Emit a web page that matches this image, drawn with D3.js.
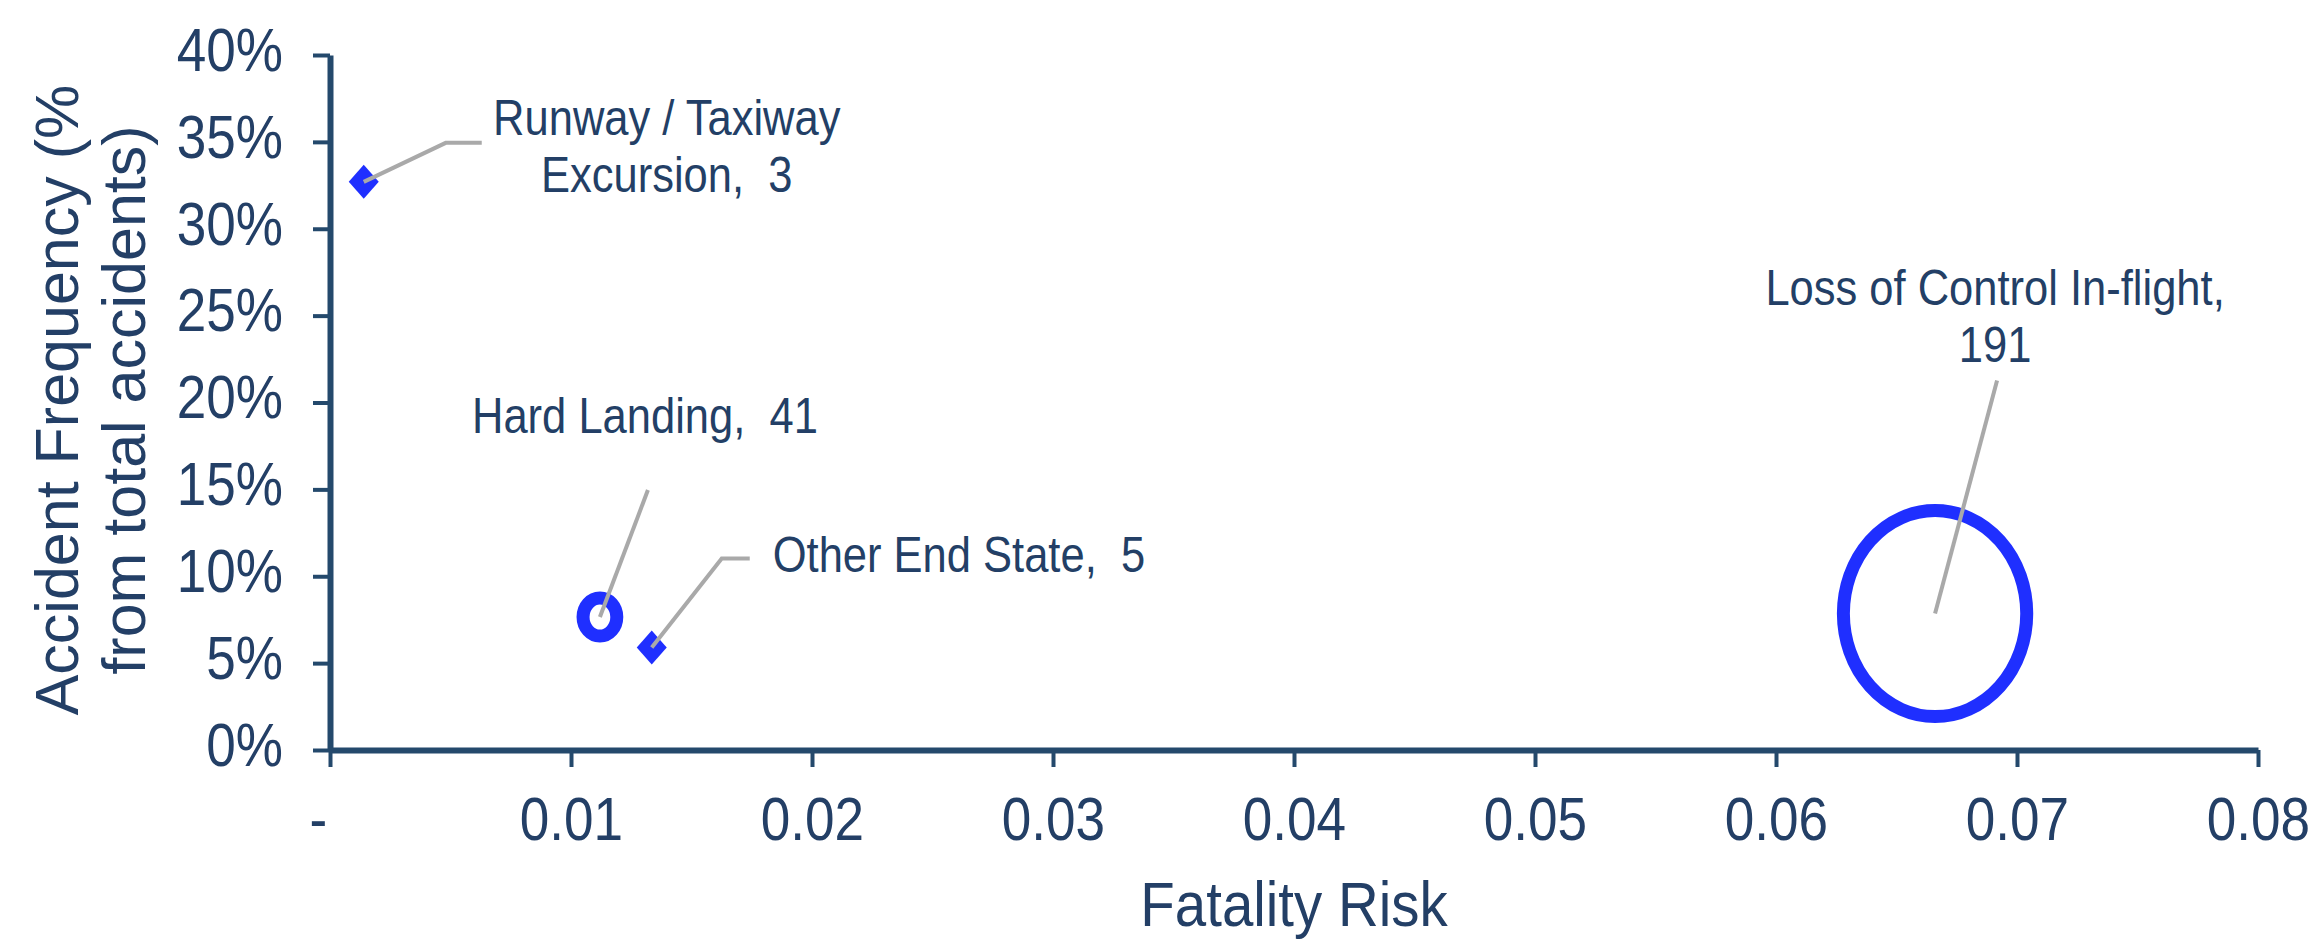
<!DOCTYPE html>
<html>
<head>
<meta charset="utf-8">
<script src="https://cdn.jsdelivr.net/npm/d3@7/dist/d3.min.js"></script>
<style>
  html, body { margin: 0; padding: 0; background: #ffffff; }
  svg { display: block; }
  text { font-family: "Liberation Sans", Arial, sans-serif; white-space: pre; }
</style>
</head>
<body>
<svg id="chart" width="2320" height="941"></svg>
<script>
// ---------------- data ----------------
const categories = ["Runway / Taxiway Excursion", "Hard Landing", "Other End State", "Loss of Control In-flight"];
const fatalityRisk = [0.0014, 0.0112, 0.01335, 0.0666];
const accidentFrequency = [0.327, 0.0765, 0.059, 0.0785];
const bubbleValues = [3, 41, 5, 191];
const labelLines = [
  ["Runway / Taxiway", "Excursion,  3"],
  ["Hard Landing,  41"],
  ["Other End State,  5"],
  ["Loss of Control In-flight,", "191"]
];
const xTickValues = [0, 0.01, 0.02, 0.03, 0.04, 0.05, 0.06, 0.07, 0.08];
const xTickLabels = ["-", "0.01", "0.02", "0.03", "0.04", "0.05", "0.06", "0.07", "0.08"];
const yTickValues = [0, 0.05, 0.10, 0.15, 0.20, 0.25, 0.30, 0.35, 0.40];
const yTickLabels = ["0%", "5%", "10%", "15%", "20%", "25%", "30%", "35%", "40%"];
const xTitle = "Fatality Risk";
const yTitleLines = ["Accident Frequency (%", "from total accidents)"];

// ---------------- layout ----------------
const W = 2320, H = 941;
const plot = { left: 330, right: 2258, top: 55, bottom: 750 };
const SX = 0.87;          // horizontal squeeze of the original picture (text)
const ELL = 0.89;         // horizontal squeeze of the bubbles
const MIN_R = 9;          // bubbles smaller than this are drawn as small solid diamonds
const textColor = "#233f66";
const axisColor = "#24496c";
const bubbleColor = "#1f2fff";
const leaderColor = "#a9a9a9";

// label layout: leader path (offsets from point) and label anchor
const labelLayout = [
  { path: [[0,0],[82,-39],[118,-39]], anchor: "middle", dx: 303, dy: -47, lh: 57 },
  { path: [[0,0],[48,-127]],          anchor: "middle", dx: 45,  dy: -184, lh: 57 },
  { path: [[0,0],[70,-89],[98,-89]],  anchor: "start",  dx: 121, dy: -75, lh: 57 },
  { path: [[0,0],[62,-233]],          anchor: "middle", dx: 60,  dy: -309, lh: 57 }
];

const svg = d3.select("#chart");
svg.append("rect").attr("width", W).attr("height", H).attr("fill", "#fff");

const x = d3.scaleLinear().domain([0, 0.08]).range([plot.left, plot.right]);
const y = d3.scaleLinear().domain([0, 0.40]).range([plot.bottom, plot.top]);
const r = d3.scalePow().exponent(1.1).domain([0, 191]).range([0, 103]);

// ---------------- axes ----------------
const xAxis = d3.axisBottom(x)
  .tickValues(xTickValues)
  .tickSize(17)
  .tickSizeOuter(0)
  .tickFormat((d, i) => xTickLabels[i]);

const gx = svg.append("g")
  .attr("transform", `translate(0,${plot.bottom})`)
  .call(xAxis);
gx.attr("font-family", null);
gx.select(".domain").attr("stroke", axisColor).attr("stroke-width", 6);
gx.selectAll(".tick line").attr("stroke", axisColor).attr("stroke-width", 4);
gx.selectAll(".tick text")
  .attr("fill", textColor)
  .attr("font-size", 61)
  .attr("y", 90)
  .attr("dy", 0)
  .attr("x", (d, i) => i === 0 ? -14 : 0)
  .attr("transform", `scale(${SX},1)`);

const yAxis = d3.axisLeft(y)
  .tickValues(yTickValues)
  .tickSize(17)
  .tickSizeOuter(0)
  .tickFormat((d, i) => yTickLabels[i]);

const gy = svg.append("g")
  .attr("transform", `translate(${plot.left},0)`)
  .call(yAxis);
gy.attr("font-family", null);
gy.select(".domain").attr("stroke", axisColor).attr("stroke-width", 6);
gy.selectAll(".tick line").attr("stroke", axisColor).attr("stroke-width", 4);
gy.selectAll(".tick text")
  .attr("fill", textColor)
  .attr("font-size", 61)
  .attr("x", -47 / SX)
  .attr("dy", "0.25em")
  .attr("transform", `scale(${SX},1)`);

// axis titles
svg.append("text")
  .attr("transform", `translate(${(plot.left + plot.right) / 2},926) scale(${SX * 1.03},1)`)
  .attr("text-anchor", "middle")
  .attr("font-size", 63)
  .attr("fill", textColor)
  .text(xTitle);

const yTitleX = [78, 145];
yTitleLines.forEach((t, i) => {
  svg.append("text")
    .attr("transform", `translate(${yTitleX[i]},400) rotate(-90)`)
    .attr("text-anchor", "middle")
    .attr("font-size", 61)
    .attr("fill", textColor)
    .text(t);
});

// ---------------- bubbles ----------------
const points = categories.map((c, i) => ({
  name: c,
  px: x(fatalityRisk[i]),
  py: y(accidentFrequency[i]),
  ry: r(bubbleValues[i]),
  layout: labelLayout[i],
  lines: labelLines[i]
}));

const bubbleG = svg.append("g");
// regular bubbles: outlined ellipses
bubbleG.selectAll("ellipse")
  .data(points.filter(d => d.ry >= MIN_R))
  .join("ellipse")
  .attr("cx", d => d.px)
  .attr("cy", d => d.py)
  .attr("ry", d => d.ry)
  .attr("rx", d => d.ry * ELL)
  .attr("fill", "none")
  .attr("stroke", bubbleColor)
  .attr("stroke-width", 13);
// tiny bubbles: the thick outline closes them into a small solid diamond
bubbleG.selectAll("path")
  .data(points.filter(d => d.ry < MIN_R))
  .join("path")
  .attr("d", d => {
    const hy = 17, hx = 15;
    return `M${d.px},${d.py - hy}L${d.px + hx},${d.py}L${d.px},${d.py + hy}L${d.px - hx},${d.py}Z`;
  })
  .attr("fill", bubbleColor);

// leader lines
const line = d3.line();
svg.append("g").selectAll("path")
  .data(points)
  .join("path")
  .attr("d", d => line(d.layout.path.map(p => [d.px + p[0], d.py + p[1]])))
  .attr("fill", "none")
  .attr("stroke", leaderColor)
  .attr("stroke-width", 4);

// labels
const lg = svg.append("g");
points.forEach(d => {
  d.lines.forEach((t, j) => {
    lg.append("text")
      .attr("transform", `translate(${d.px + d.layout.dx},${d.py + d.layout.dy + j * d.layout.lh}) scale(${SX},1)`)
      .attr("text-anchor", d.layout.anchor)
      .attr("font-size", 50)
      .attr("fill", textColor)
      .text(t);
  });
});
</script>
</body>
</html>
